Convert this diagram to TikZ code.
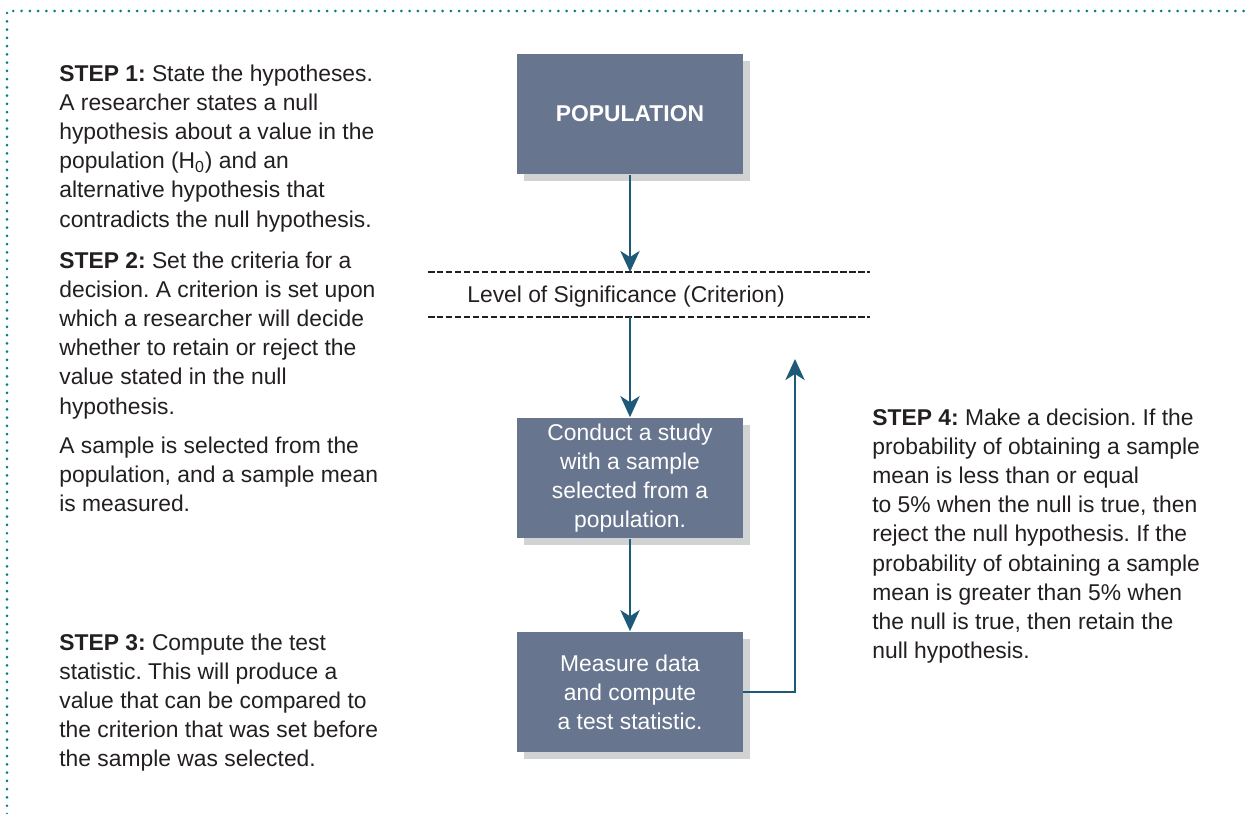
\documentclass[tikz,border=0pt]{standalone}
\usepackage{fontspec}
\setmainfont{Liberation Sans}
\usetikzlibrary{arrows.meta,shadows}
\frenchspacing

\definecolor{boxblue}{RGB}{104,117,143}
\definecolor{shadowgrey}{RGB}{209,210,212}
\definecolor{arrowblue}{RGB}{30,90,120}
\definecolor{textgrey}{RGB}{35,31,32}
\definecolor{frameteal}{RGB}{0,128,132}

\begin{document}
\begin{tikzpicture}[
	x = 0.02cm,
	y = -0.02cm,
	>={Stealth[length=12pt,width=11pt,inset=3.5pt]},
	box/.style = {
		fill = boxblue,
		text = white,
		minimum width = 4.52cm,
		minimum height = 2.42cm,
		inner sep = 0pt,
		align = center,
		font = \fontsize{13}{16.6}\selectfont,
		drop shadow = {shadow xshift = 0.14cm, shadow yshift = -0.14cm, fill = shadowgrey, opacity = 1}
	},
	steptext/.style = {
		anchor = north west,
		inner sep = 0pt,
		align = left,
		text = textgrey,
		font = \fontsize{13}{16.6}\selectfont
	},
	flow/.style = {
		->,
		draw = arrowblue,
		line width = 1.2pt
	},
	sigline/.style = {
		draw = textgrey,
		line width = 0.9pt,
		dash pattern = on 3.7pt off 1.4pt
	}
	]
	\useasboundingbox (0,0) rectangle (1247,814);
	\draw[frameteal, line width = 1.7pt, line cap = round, dash pattern = on 0pt off 4.7pt] (7,814) -- (7,11) -- (1247,11);

	\node[box, font = \fontsize{13}{16.6}\selectfont\bfseries] (pop) at (630,114) {POPULATION};
	\node[box] (study) at (630,478) {Conduct a study\\with a sample\\selected from a\\population.};
	\node[box] (measure) at (630,692) {Measure data\\and compute\\a test statistic.};

	\coordinate (sigtl) at (428,272);
	\coordinate (sigtr) at (870,272);
	\coordinate (sigbl) at (428,317);
	\coordinate (sigbr) at (870,317);
	\draw[sigline] (sigtl) -- (sigtr);
	\draw[sigline] (sigbl) -- (sigbr);
	\node[anchor = base west, inner sep = 0pt, text = textgrey, font = \fontsize{13}{16.6}\selectfont] (siglabel) at (467,302) {Level of Significance (Criterion)};

	\coordinate (fbtip) at (795,359);
	\draw[flow] (pop) -- (pop |- sigtl);
	\draw[flow] (pop |- sigbl) -- (study);
	\draw[flow] (study) -- (measure);
	\draw[flow] (measure.east) -| (fbtip);

	\node[steptext] (step1) at (59,60.5) {\strut\textbf{STEP 1:} State the hypotheses.\\A researcher states a null\\hypothesis about a value in the\\population (H\textsubscript{0}) and an\\alternative hypothesis that\\contradicts the null hypothesis.};
	\node[steptext] (step2) at (59,247.5) {\strut\textbf{STEP 2:} Set the criteria for a\\decision. A criterion is set upon\\which a researcher will decide\\whether to retain or reject the\\value stated in the null\\hypothesis.};
	\node[steptext] (sample) at (59,432.5) {\strut A sample is selected from the\\population, and a sample mean\\is measured.};
	\node[steptext] (step3) at (59,629.5) {\strut\textbf{STEP 3:} Compute the test\\statistic. This will produce a\\value that can be compared to\\the criterion that was set before\\the sample was selected.};
	\node[steptext] (step4) at (872,404.5) {\strut\textbf{STEP 4:} Make a decision. If the\\probability of obtaining a sample\\mean is less than or equal\\to 5\% when the null is true, then\\reject the null hypothesis. If the\\probability of obtaining a sample\\mean is greater than 5\% when\\the null is true, then retain the\\null hypothesis.};
\end{tikzpicture}
\end{document}
